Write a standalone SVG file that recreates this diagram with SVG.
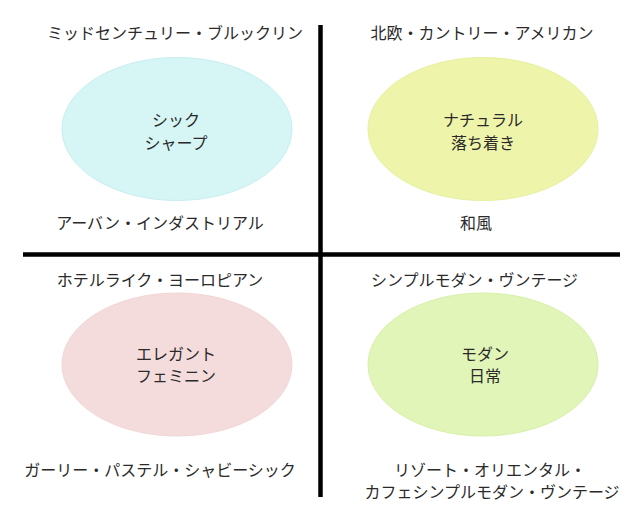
<svg xmlns="http://www.w3.org/2000/svg" width="644" height="506" viewBox="0 0 644 506">
<style>
text{font-family:"Noto Sans CJK JP","Noto Sans",sans-serif;fill:#2a2a2a;text-anchor:middle;font-size:16px}
.ax{stroke:#000;stroke-width:4.5;fill:none}
</style>
<rect width="644" height="506" fill="#fff"/>
<g id="axes">
<line class="ax" x1="23" y1="254.5" x2="620" y2="254.5"/>
<line class="ax" x1="320.5" y1="25" x2="320.5" y2="497"/>
</g>
<g id="chic">
<ellipse cx="177" cy="129" rx="115" ry="71.5" fill="#d6f5f5" stroke="#c8eef0"/>
<text x="176" y="126">シック</text>
<text x="176" y="149">シャープ</text>
</g>
<g id="natural">
<ellipse cx="483" cy="129" rx="115" ry="71.5" fill="#eef5aa" stroke="#e6f0a0"/>
<text x="483" y="126">ナチュラル</text>
<text x="483" y="149">落ち着き</text>
</g>
<g id="elegant">
<ellipse cx="177" cy="364.5" rx="115" ry="71.5" fill="#f5dcdc" stroke="#f2d6d6"/>
<text x="176" y="360">エレガント</text>
<text x="176" y="382">フェミニン</text>
</g>
<g id="modern">
<ellipse cx="483" cy="364.5" rx="115" ry="71.5" fill="#e2f5b8" stroke="#d8f0a8"/>
<text x="485" y="360">モダン</text>
<text x="485" y="382">日常</text>
</g>
<g id="labels">
<text x="175" y="39">ミッドセンチュリー・ブルックリン</text>
<text x="482" y="39">北欧・カントリー・アメリカン</text>
<text x="160" y="228.5">アーバン・インダストリアル</text>
<text x="476" y="229">和風</text>
<text x="160" y="286">ホテルライク・ヨーロピアン</text>
<text x="474.5" y="286">シンプルモダン・ヴンテージ</text>
<text x="160" y="476">ガーリー・パステル・シャビーシック</text>
<text x="490" y="475.5">リゾート・オリエンタル・</text>
<text x="492" y="497.5">カフェシンプルモダン・ヴンテージ</text>
</g>
</svg>
